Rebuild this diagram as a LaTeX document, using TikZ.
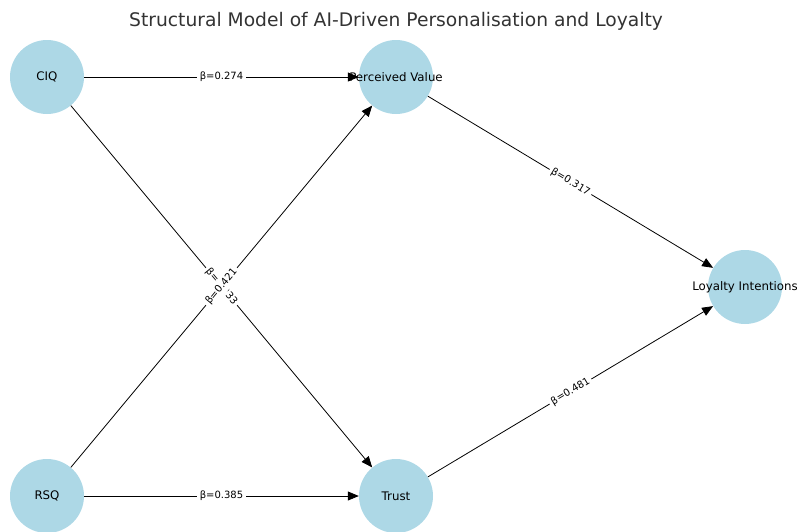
\documentclass[tikz,border=0pt]{standalone}
\usepackage{fontspec}
\setmainfont{DejaVu Sans}
\usetikzlibrary{arrows.meta}
\definecolor{nodeblue}{RGB}{173,216,230}
\definecolor{titlegray}{RGB}{51,51,51}
\tikzset{
  construct/.style={circle,fill=nodeblue,minimum size=74pt,inner sep=0pt},
  path/.style={-{Triangle[length=11pt,width=9pt]},line width=0.8pt},
  beta/.style={sloped,fill=white,inner sep=2.5pt,font=\fontsize{10}{12}\selectfont}
}
\begin{document}
\begin{tikzpicture}[x=1pt,y=-1pt]
\useasboundingbox (0,0) rectangle (797,531);
\node[text=titlegray,font=\fontsize{18.7}{22}\selectfont] (title) at (396,21) {Structural Model of AI-Driven Personalisation and Loyalty};
% constructs
\node[construct] (ciq) at (47,77) {};
\node[construct] (pv) at (396,77) {};
\node[construct] (li) at (745,287) {};
\node[construct] (rsq) at (47,496) {};
\node[construct] (tr) at (396,496) {};
% paths
\draw[path] (ciq) -- node[beta] {β=0.274} (pv);
\draw[path] (ciq) -- node[beta] {β=0.233} (tr);
\draw[path] (rsq) -- node[beta] {β=0.421} (pv);
\draw[path] (rsq) -- node[beta] {β=0.385} (tr);
\draw[path] (pv) -- node[beta] {β=0.317} (li);
\draw[path] (tr) -- node[beta] {β=0.481} (li);
% labels
\begin{scope}[font=\fontsize{11.8}{14}\selectfont]
\node (ciqtext) at (ciq.center) {CIQ};
\node (pvtext) at (pv.center) {Perceived Value};
\node (litext) at (li.center) {Loyalty Intentions};
\node (rsqtext) at (rsq.center) {RSQ};
\node (trtext) at (tr.center) {Trust};
\end{scope}
\end{tikzpicture}
\end{document}
